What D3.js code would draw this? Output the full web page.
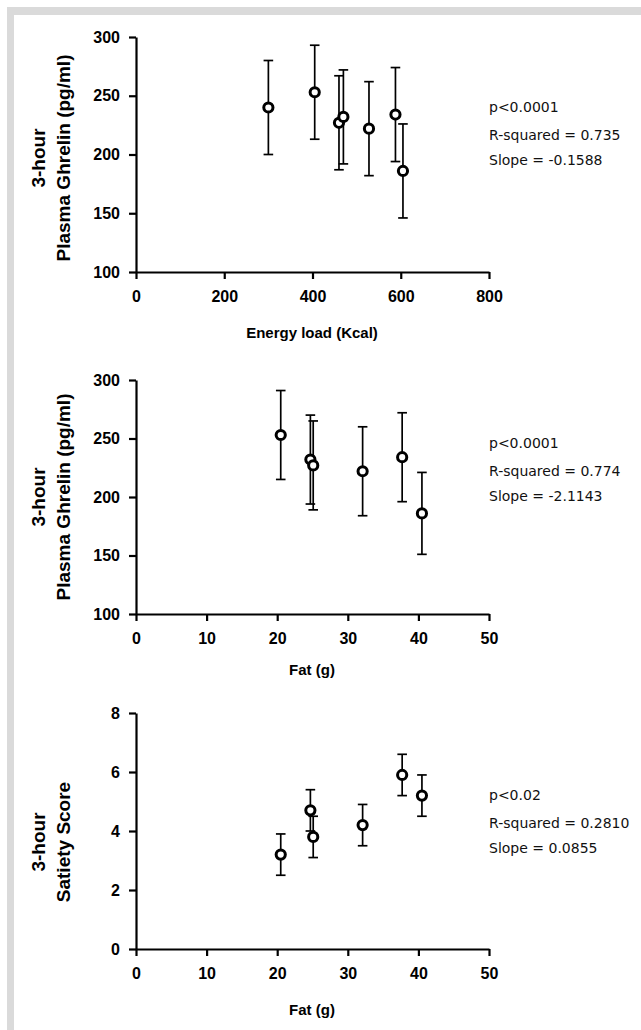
<!DOCTYPE html>
<html>
<head>
<meta charset="utf-8">
<script src="https://cdn.jsdelivr.net/npm/d3@7"></script>
<style>
  body { margin: 0; background: #fff; }
  .tick text { font-family: "Liberation Sans", Arial, sans-serif; font-weight: bold; font-size: 16px; fill: #000; }
  .axis path, .axis line { stroke: #000; stroke-width: 2.2; }
  .title { font-family: "Liberation Sans", Arial, sans-serif; font-weight: bold; fill: #000; }
  .stats { font-family: "DejaVu Sans", sans-serif; font-size: 14px; fill: #111; }
</style>
</head>
<body>
<svg id="chart"></svg>
<script>
// panel 1: ghrelin vs energy load
const energyKcal = [300, 405, 460, 470, 528, 588, 605];
const ghrelinByEnergy = [240, 253, 227, 232, 222, 234, 186];
const ghrelinByEnergyErr = [40, 40, 40, 40, 40, 40, 40];

// panel 2 + 3: fat content
const fatG = [20.5, 24.7, 25.1, 32.1, 37.7, 40.5];
const ghrelinByFat = [253, 232, 227, 222, 234, 186];
const ghrelinByFatErr = [38, 38, 38, 38, 38, 35];
const satiety = [3.2, 4.7, 3.8, 4.2, 5.9, 5.2];
const satietyErr = [0.7, 0.7, 0.7, 0.7, 0.7, 0.7];

const energyTicks = [0, 200, 400, 600, 800];
const fatTicks = [0, 10, 20, 30, 40, 50];
const ghrelinTicks = [100, 150, 200, 250, 300];
const satietyTicks = [0, 2, 4, 6, 8];

const statsEnergy = ["p<0.0001", "R-squared = 0.735", "Slope = -0.1588"];
const statsFatGhrelin = ["p<0.0001", "R-squared = 0.774", "Slope = -2.1143"];
const statsFatSatiety = ["p<0.02", "R-squared = 0.2810", "Slope = 0.0855"];

const W = 641, H = 1030;
const svg = d3.select("#chart").attr("width", W).attr("height", H);

// grey frame at top / left
svg.append("rect").attr("x", 7).attr("y", 7).attr("width", W - 7).attr("height", H - 7).attr("fill", "#dadada");
svg.append("rect").attr("x", 14).attr("y", 15).attr("width", W - 14).attr("height", H - 15).attr("fill", "#fff");

function panel(opt) {
  const x = d3.scaleLinear().domain(opt.xDomain).range([136, 489]);
  const y = d3.scaleLinear().domain(opt.yDomain).range([opt.bottom, opt.top]);
  const g = svg.append("g");

  g.append("g")
    .attr("class", "axis")
    .attr("transform", "translate(0," + opt.bottom + ")")
    .call(d3.axisBottom(x).tickValues(opt.xTicks).tickSize(7).tickSizeOuter(0).tickPadding(12));

  g.append("g")
    .attr("class", "axis")
    .attr("transform", "translate(136,0)")
    .call(d3.axisLeft(y).tickValues(opt.yTicks).tickSize(7).tickSizeOuter(0).tickPadding(9));

  // error bars
  const half = 4.8;
  opt.xs.forEach((xv, i) => {
    const cx = x(xv), top = y(opt.ys[i] + opt.err[i]), bot = y(opt.ys[i] - opt.err[i]);
    g.append("line").attr("x1", cx).attr("x2", cx).attr("y1", top).attr("y2", bot)
      .attr("stroke", "#000").attr("stroke-width", 1.7);
    [top, bot].forEach(v => {
      g.append("line").attr("x1", cx - half).attr("x2", cx + half).attr("y1", v).attr("y2", v)
        .attr("stroke", "#000").attr("stroke-width", 1.7);
    });
  });

  g.selectAll("circle.pt")
    .data(opt.xs)
    .join("circle")
    .attr("class", "pt")
    .attr("cx", d => x(d))
    .attr("cy", (d, i) => y(opt.ys[i]))
    .attr("r", 4.6)
    .attr("fill", "#fff")
    .attr("stroke", "#000")
    .attr("stroke-width", 3);

  // x title
  g.append("text").attr("class", "title")
    .attr("x", 312).attr("y", opt.xTitleY)
    .attr("text-anchor", "middle").style("font-size", "15px")
    .text(opt.xTitle);

  // y title, two lines
  const mid = opt.yTitleMid;
  opt.yTitle.forEach((t, k) => {
    g.append("text").attr("class", "title")
      .attr("transform", "translate(" + (45 + k * 25) + "," + mid + ") rotate(-90)")
      .attr("text-anchor", "middle").style("font-size", "19px")
      .text(t);
  });

  // regression stats
  const offs = [0, 28, 53];
  opt.stats.forEach((t, k) => {
    g.append("text").attr("class", "stats")
      .attr("x", 489).attr("y", opt.statsY + offs[k] + 5)
      .text(t);
  });
}

panel({
  xs: energyKcal, ys: ghrelinByEnergy, err: ghrelinByEnergyErr,
  xDomain: [0, 800], yDomain: [100, 300], xTicks: energyTicks, yTicks: ghrelinTicks,
  top: 37, bottom: 272, xTitle: "Energy load (Kcal)", xTitleY: 338,
  yTitle: ["3-hour", "Plasma Ghrelin (pg/ml)"], yTitleMid: 158,
  stats: statsEnergy, statsY: 107
});

panel({
  xs: fatG, ys: ghrelinByFat, err: ghrelinByFatErr,
  xDomain: [0, 50], yDomain: [100, 300], xTicks: fatTicks, yTicks: ghrelinTicks,
  top: 380, bottom: 614, xTitle: "Fat (g)", xTitleY: 675,
  yTitle: ["3-hour", "Plasma Ghrelin (pg/ml)"], yTitleMid: 497,
  stats: statsFatGhrelin, statsY: 443
});

panel({
  xs: fatG, ys: satiety, err: satietyErr,
  xDomain: [0, 50], yDomain: [0, 8], xTicks: fatTicks, yTicks: satietyTicks,
  top: 713, bottom: 949, xTitle: "Fat (g)", xTitleY: 1015,
  yTitle: ["3-hour", "Satiety Score"], yTitleMid: 842,
  stats: statsFatSatiety, statsY: 795
});
</script>
</body>
</html>
